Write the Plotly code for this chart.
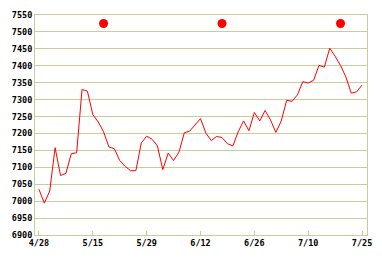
import plotly.graph_objects as go

# Daily prices (trading-day index 0..60)
prices = [7035, 6994, 7030, 7158, 7076, 7082, 7140, 7143, 7330, 7325,
          7256, 7234, 7205, 7160, 7155, 7120, 7103, 7090, 7090, 7172,
          7192, 7183, 7163, 7093, 7142, 7120, 7145, 7202, 7207, 7225,
          7244, 7201, 7179, 7191, 7188, 7170, 7163, 7205, 7237, 7208,
          7262, 7237, 7268, 7240, 7203, 7237, 7298, 7295, 7314, 7353,
          7349, 7357, 7401, 7396, 7452, 7428, 7401, 7367, 7319, 7323,
          7343]
x_index = list(range(len(prices)))

# x tick labels every 10 trading days
tick_pos = [0, 10, 20, 30, 40, 50, 60]
tick_labels = ["4/28", "5/15", "5/29", "6/12", "6/26", "7/10", "7/25"]

# red event markers
marker_idx = [12, 34, 56]
marker_val = [7525, 7525, 7525]

y_ticks = list(range(6900, 7551, 50))

grid = "#cccc99"
font = dict(family="DejaVu Sans Mono", size=8.5, color="#000000", weight="bold")

fig = go.Figure()
fig.add_trace(go.Scatter(x=x_index, y=prices, mode="lines",
                         line=dict(color="#ff0000", width=1), hoverinfo="skip"))
fig.add_trace(go.Scatter(x=marker_idx, y=marker_val, mode="markers",
                         marker=dict(color="#ff0000", size=9), hoverinfo="skip"))

fig.update_layout(
    width=382, height=258,
    margin=dict(l=35, r=11, t=10, b=23),
    paper_bgcolor="white", plot_bgcolor="white",
    showlegend=False,
    font=font,
    xaxis=dict(range=[-0.734, 60.92], tickmode="array", tickvals=tick_pos,
               ticktext=tick_labels, showgrid=False, zeroline=False,
               ticks="inside", ticklen=4, tickcolor=grid, tickwidth=1,
               showline=True, linecolor=grid, linewidth=1, mirror=True,
               tickfont=font),
    yaxis=dict(range=[6900, 7550], tickmode="array", tickvals=y_ticks,
               showgrid=True, gridcolor=grid, gridwidth=1, zeroline=False,
               ticks="", showline=True, linecolor=grid, linewidth=1, mirror=True,
               tickfont=font),
)

fig.write_html("out.html")
